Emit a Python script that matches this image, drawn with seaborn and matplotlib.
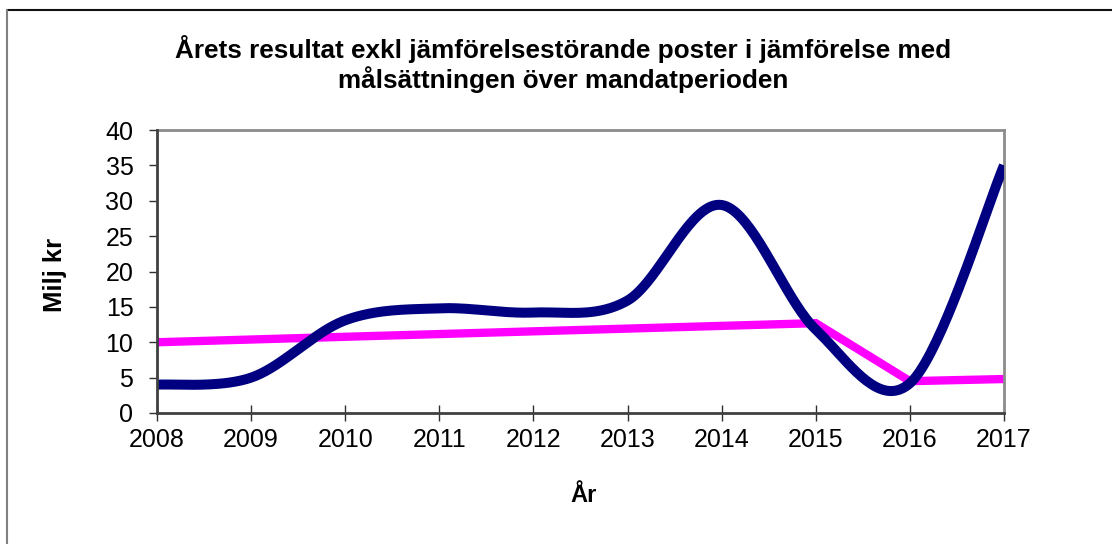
import numpy as np
import pandas as pd
import matplotlib
matplotlib.use("Agg")
import matplotlib.pyplot as plt
from matplotlib.lines import Line2D
import seaborn as sns

# ---- data ----
years = [2008, 2009, 2010, 2011, 2012, 2013, 2014, 2015, 2016, 2017]
result = [4.0, 5.0, 13.1, 14.8, 14.2, 15.9, 29.4, 11.8, 4.2, 35.0]
target_years = [2008, 2015, 2016, 2017]
target = [10.0, 12.7, 4.5, 4.8]
y_ticks = [0, 5, 10, 15, 20, 25, 30, 35, 40]

title = "Årets resultat exkl jämförelsestörande poster i jämförelse med\nmålsättningen över mandatperioden"
ylabel = "Milj kr"
xlabel = "År"


def excel_smooth(x, y, n=40):
    """Bezier smoothing like a spreadsheet 'smoothed line' (Catmull-Rom style)."""
    pts = np.column_stack([x, y]).astype(float)
    P = np.vstack([pts[0], pts, pts[-1]])
    out = []
    t = np.linspace(0, 1, n)[:, None]
    for i in range(1, len(P) - 2):
        p0, p1, p2, p3 = P[i - 1], P[i], P[i + 1], P[i + 2]
        c1 = p1 + (p2 - p0) / 6
        c2 = p2 - (p3 - p1) / 6
        seg = (1 - t) ** 3 * p1 + 3 * (1 - t) ** 2 * t * c1 + 3 * (1 - t) * t ** 2 * c2 + t ** 3 * p2
        out.append(seg if i == 1 else seg[1:])
    return np.vstack(out)


sns.set_theme(style="white")
plt.rcParams["font.family"] = ["Liberation Sans", "DejaVu Sans"]
plt.rcParams["text.color"] = "black"

W, H = 1112, 544
fig = plt.figure(figsize=(W / 100, H / 100), dpi=100)
fig.patch.set_facecolor("white")

ax = fig.add_axes([157 / W, 1 - 413 / H, (1004 - 157) / W, (413 - 130) / H])

smooth = excel_smooth(years, result)
df_res = pd.DataFrame({"x": smooth[:, 0], "y": smooth[:, 1]})
df_tgt = pd.DataFrame({"x": target_years, "y": target})

sns.lineplot(data=df_tgt, x="x", y="y", ax=ax, color="#FF00FF", linewidth=6.0,
             sort=False, estimator=None, solid_joinstyle="miter", zorder=2)
sns.lineplot(data=df_res, x="x", y="y", ax=ax, color="#000080", linewidth=7.2,
             sort=False, estimator=None, solid_capstyle="butt", zorder=3)

ax.set_xlim(years[0], years[-1])
ax.set_ylim(0, 40)
ax.set_xticks(years)
ax.set_xticklabels([str(y) for y in years])
ax.set_yticks(y_ticks)
ax.set_yticklabels([str(v) for v in y_ticks])
ax.set_xlabel("")
ax.set_ylabel("")

ax.tick_params(axis="x", direction="inout", length=11.5, width=1.0, color="#303030",
               labelsize=18, pad=5, bottom=True)
ax.tick_params(axis="y", direction="out", length=6, width=1.0, color="#303030",
               labelsize=18, pad=11, left=True)
for lbl in ax.get_xticklabels() + ax.get_yticklabels():
    lbl.set_color("black")

for side in ["left", "bottom"]:
    ax.spines[side].set_color("#404040")
    ax.spines[side].set_linewidth(2.0)
for side in ["top", "right"]:
    ax.spines[side].set_color("#8c8c8c")
    ax.spines[side].set_linewidth(2.0)
    ax.spines[side].set_visible(True)
ax.spines["left"].set_zorder(5)
ax.spines["bottom"].set_zorder(5)

fig.text(563 / W, 1 - 64 / H, title, ha="center", va="center", fontsize=18.8,
         fontweight="bold", linespacing=1.1, multialignment="center", color="black")
fig.text(55 / W, 1 - 275 / H, ylabel, ha="center", va="center", rotation=90,
         fontsize=18.5, fontweight="bold", color="black")
fig.text(584 / W, 1 - 496 / H, xlabel, ha="center", va="center",
         fontsize=17, fontweight="bold", color="black")

# outer chart border (extends beyond the image on the right and bottom)
fig.add_artist(Line2D([7 / W, 1.0], [1 - 10 / H, 1 - 10 / H], transform=fig.transFigure,
                      color="#111111", linewidth=1.5))
fig.add_artist(Line2D([7 / W, 7 / W], [1 - 10 / H, 0.0], transform=fig.transFigure,
                      color="#808080", linewidth=1.5))

fig.savefig("out.png", dpi=100, facecolor="white")
